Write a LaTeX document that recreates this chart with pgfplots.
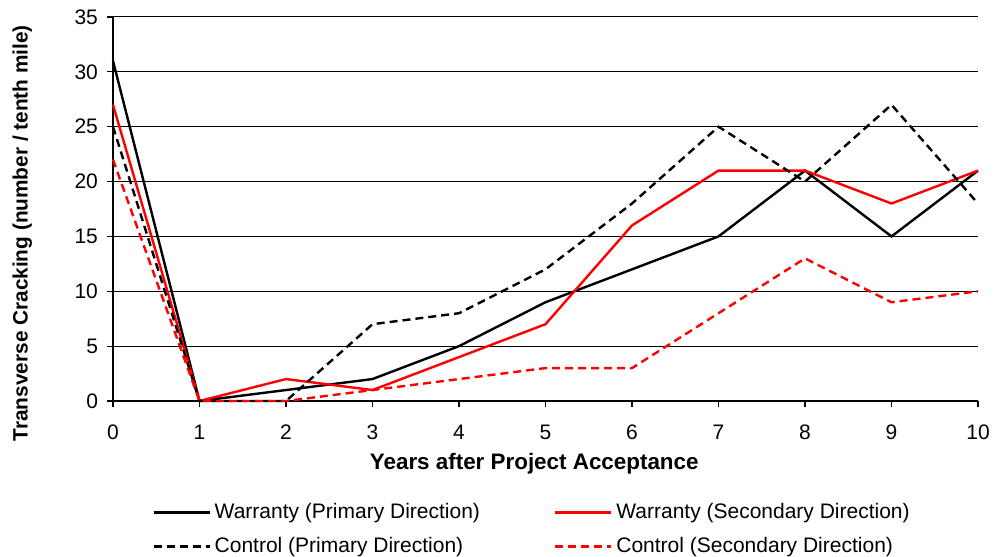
\documentclass[border=0pt]{standalone}
\usepackage{fontspec}
\setmainfont{Liberation Sans}
\usepackage{pgfplots}
\pgfplotsset{compat=1.18}
\begin{document}
\begin{tikzpicture}
\begin{axis}[
  scale only axis,
  width=432.5pt, height=192pt,
  xmin=0, xmax=10, ymin=0, ymax=35,
  xtick={0,1,...,10}, ytick={0,5,...,35},
  axis lines*=left,
  axis line style={black, line width=0.6pt},
  ymajorgrids, grid style={black, line width=0.5pt},
  tick align=outside, major tick length=3pt,
  tick style={black, line width=0.6pt},
  clip=false,
  /pgf/number format/assume math mode=true,
  ticklabel style={font=\fontsize{10.5}{12}\selectfont},
  xticklabel style={yshift=-5.5pt},
  yticklabel style={xshift=-1pt},
  xlabel={\textbf{Years after Project Acceptance}},
  ylabel={\textbf{Transverse Cracking (number / tenth mile)}},
  xlabel style={font=\fontsize{11.2}{13}\selectfont, at={(axis description cs:0.487,-0.164)}, anchor=center},
  ylabel style={font=\fontsize{10.4}{12}\selectfont, at={(axis description cs:-0.105,0.437)}, anchor=center},
  legend columns=2,
  legend cell align=left,
  legend style={at={(axis description cs:0.045,-0.255)}, anchor=north west,
    draw=none, fill=none, inner sep=0pt, row sep=4pt,
    font=\fontsize{10.5}{12}\selectfont,
    /tikz/every even column/.append style={column sep=35pt}},
  legend image code/.code={\draw[#1] (0pt,0pt) -- (28pt,0pt);},
]
\addplot[black, line width=1.2pt] coordinates {(0,31) (1,0) (2,1) (3,2) (4,5) (5,9) (6,12) (7,15) (8,21) (9,15) (10,21)};
\addlegendentry{Warranty (Primary Direction)}
\addplot[red, line width=1.2pt] coordinates {(0,27) (1,0) (2,2) (3,1) (4,4) (5,7) (6,16) (7,21) (8,21) (9,18) (10,21)};
\addlegendentry{Warranty (Secondary Direction)}
\addplot[black, line width=1.2pt, dash pattern=on 4pt off 2.5pt] coordinates {(0,25) (1,0) (2,0) (3,7) (4,8) (5,12) (6,18) (7,25) (8,20) (9,27) (10,18)};
\addlegendentry{Control (Primary Direction)}
\addplot[red, line width=1.2pt, dash pattern=on 4pt off 2.5pt] coordinates {(0,22) (1,0) (2,0) (3,1) (4,2) (5,3) (6,3) (7,8) (8,13) (9,9) (10,10)};
\addlegendentry{Control (Secondary Direction)}
\end{axis}
\pgfresetboundingbox
\path (current axis.south west) ++(-56.5pt,-77.5pt) coordinate (bbA);
\path (current axis.north east) ++(8pt,8.5pt) coordinate (bbB);
\path[use as bounding box] (bbA) rectangle (bbB);
\end{tikzpicture}
\end{document}
